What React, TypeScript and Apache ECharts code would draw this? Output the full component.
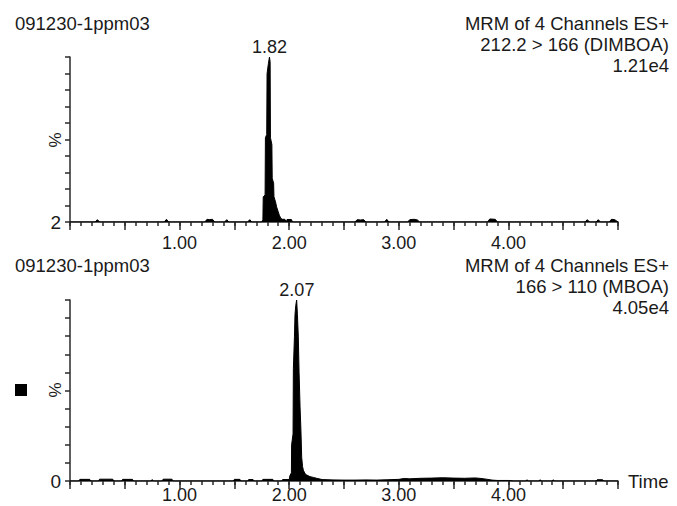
import React, { useEffect, useRef } from "react";
import * as echarts from "echarts";

const FONT = 'Arial, "Liberation Sans", Helvetica, sans-serif';
const INK = "#1a1a1a";
const AXIS = "#2a2a2a";

const sampleNames = ["091230-1ppm03", "091230-1ppm03"];
const headerLines = [
  ["MRM of 4 Channels ES+", "212.2 > 166 (DIMBOA)", "1.21e4"],
  ["MRM of 4 Channels ES+", "166 > 110 (MBOA)", "4.05e4"],
];
const xTickLabels = ["1.00", "2.00", "3.00", "4.00"];
const yAxisMin = [2, 0];
const yAxisMinLabel = ["2", "0"];
const peakTimes = [1.82, 2.07];

// DIMBOA channel: [time (min), relative intensity (%)]
const dimboaPoints: [number, number][] = [
  [0.0, 2], [0.23, 2], [0.25, 3.4], [0.27, 2], [0.86, 2], [0.88, 3.6], [0.9, 2],
  [1.23, 2], [1.25, 3.6], [1.27, 3.4], [1.3, 3.6], [1.32, 2], [1.41, 2], [1.43, 3.4],
  [1.45, 2], [1.62, 2], [1.64, 3.4], [1.66, 2], [1.75, 2],
  [1.76, 3.5], [1.763, 17], [1.78, 18], [1.783, 52], [1.795, 54], [1.798, 90],
  [1.81, 96], [1.82, 100], [1.826, 97], [1.829, 52], [1.842, 48], [1.845, 28],
  [1.858, 25], [1.861, 17], [1.875, 14], [1.885, 11], [1.9, 8], [1.91, 6],
  [1.925, 4], [1.94, 3.6], [1.96, 3.6], [1.975, 2], [1.98, 3.5], [2.02, 3.5],
  [2.03, 2], [2.6, 2], [2.62, 3.4], [2.65, 3.2], [2.68, 3.4], [2.7, 2], [2.87, 2],
  [2.89, 3.6], [2.91, 2], [3.08, 2], [3.1, 3.4], [3.14, 3.6], [3.17, 3.2], [3.19, 2],
  [3.81, 2], [3.83, 3.8], [3.88, 3.6], [3.9, 2], [4.7, 2], [4.72, 3.4], [4.74, 2],
  [4.8, 2], [4.82, 3.4], [4.84, 2], [4.92, 2], [4.94, 3.6], [4.97, 3.4], [5.0, 2],
];

// MBOA channel: [time (min), relative intensity (%)]
const mboaPoints: [number, number][] = [
  [0.0, 0], [0.08, 0], [0.09, 0.9], [0.18, 0.9], [0.19, 0], [0.26, 0], [0.27, 1],
  [0.39, 1], [0.4, 0], [0.47, 0], [0.48, 0.9], [0.57, 0.9], [0.58, 0], [0.74, 0],
  [0.75, 0.8], [0.76, 0], [0.84, 0], [0.85, 1], [0.93, 1], [0.94, 0], [1.49, 0],
  [1.5, 0.9], [1.55, 0.9], [1.56, 0], [1.62, 0], [1.63, 0.8], [1.67, 0.8], [1.68, 0],
  [1.75, 0], [1.76, 0.9], [1.85, 0.9], [1.86, 0], [1.93, 0], [1.94, 0.8], [2.0, 0.8],
  [2.007, 3], [2.02, 4.5], [2.022, 20], [2.035, 26], [2.038, 62], [2.048, 80],
  [2.053, 92], [2.06, 97], [2.068, 100], [2.075, 92], [2.083, 80], [2.09, 60],
  [2.099, 41], [2.107, 28], [2.114, 13], [2.122, 8], [2.129, 6], [2.145, 4],
  [2.16, 3.3], [2.19, 2.4], [2.22, 2], [2.25, 1.5], [2.3, 0.8], [2.4, 0.6],
  [2.5, 0.5], [2.6, 0.5], [2.7, 0.6], [2.8, 0.5], [2.9, 0.7], [3.0, 0.9],
  [3.05, 1.4], [3.1, 1.2], [3.2, 1.5], [3.3, 1.6], [3.4, 1.8], [3.5, 1.6],
  [3.6, 1.5], [3.7, 1.7], [3.75, 1.4], [3.8, 1.0], [3.85, 0.5], [3.9, 0.3],
  [4.0, 0.3], [4.05, 0], [4.16, 0], [4.17, 0.7], [4.18, 0], [4.28, 0], [4.29, 0.7],
  [4.3, 0], [4.4, 0], [4.41, 0.7], [4.42, 0], [4.8, 0], [4.81, 0.7], [4.86, 0.7],
  [4.87, 0], [5.0, 0],
];

const channels = [dimboaPoints, mboaPoints];

export default function App() {
  const ref = useRef<HTMLDivElement>(null);

  useEffect(() => {
    if (!ref.current) return;
    const chart = echarts.init(ref.current, null, { renderer: "svg" });

    const grids = [
      { left: 70, right: 59, top: 57, height: 165 },
      { left: 70, right: 59, top: 300, height: 181 },
    ];
    const xLabelMargin = [12, 5];

    const xFormatter = (v: number) => {
      const k = Math.round(v * 100) / 100;
      if (Number.isInteger(k) && k >= 1 && k <= 4) return xTickLabels[k - 1];
      return "";
    };

    const xAxes: any[] = [];
    [0, 1].forEach((i) => {
      // main axis: short ticks every 0.1, labels every 1.00
      xAxes.push({
        type: "value",
        gridIndex: i,
        min: 0,
        max: 5,
        interval: 0.1,
        position: "bottom",
        axisLine: { show: true, onZero: false, lineStyle: { color: AXIS, width: 1.5 } },
        axisTick: { show: true, length: 4, lineStyle: { color: AXIS, width: 1.5 } },
        splitLine: { show: false },
        axisLabel: {
          show: true,
          formatter: xFormatter,
          color: INK,
          fontSize: 18,
          fontFamily: FONT,
          margin: xLabelMargin[i],
          hideOverlap: false,
        },
        name: i === 1 ? "Time" : "",
        nameLocation: "end",
        nameGap: 10,
        nameTextStyle: { color: INK, fontSize: 18.5, fontFamily: FONT },
      });
      // long ticks every 0.5
      xAxes.push({
        type: "value",
        gridIndex: i,
        min: 0,
        max: 5,
        interval: 0.5,
        position: "bottom",
        axisLine: { show: false, onZero: false },
        axisTick: { show: true, length: 8, lineStyle: { color: AXIS, width: 1.5 } },
        splitLine: { show: false },
        axisLabel: { show: false },
      });
    });

    const option: any = {
      animation: false,
      backgroundColor: "#ffffff",
      textStyle: { fontFamily: FONT },
      grid: grids.map((g) => ({ ...g, outerBoundsMode: "none", containLabel: false })),
      xAxis: xAxes,
      yAxis: [0, 1].map((i) => ({
        type: "value",
        gridIndex: i,
        min: yAxisMin[i],
        max: 100,
        interval: (100 - yAxisMin[i]) / 10,
        axisLine: { show: true, lineStyle: { color: AXIS, width: 1.5 } },
        axisTick: { show: true, length: 5, lineStyle: { color: AXIS, width: 1.5 } },
        splitLine: { show: false },
        axisLabel: {
          formatter: (v: number) => (Math.abs(v - yAxisMin[i]) < 1e-6 ? yAxisMinLabel[i] : ""),
          color: INK,
          fontSize: 19,
          fontFamily: FONT,
          margin: 9,
        },
      })),
      series: channels.map((pts, i) => ({
        type: "line",
        xAxisIndex: 2 * i,
        yAxisIndex: i,
        data: pts,
        showSymbol: false,
        symbol: "none",
        lineStyle: { color: "#000000", width: 1 },
        areaStyle: { color: "#000000", opacity: 1, origin: "start" },
        clip: true,
        markPoint: {
          silent: true,
          symbol: "circle",
          symbolSize: 0,
          itemStyle: { color: "transparent" },
          label: {
            show: true,
            position: "top",
            distance: 1,
            color: INK,
            fontSize: 18,
            fontFamily: FONT,
            formatter: peakTimes[i].toFixed(2),
          },
          data: [{ coord: [peakTimes[i], 100] }],
        },
      })),
      graphic: [
        ...[0, 1].flatMap((i) => {
          const ys = i === 0 ? [23, 44.5, 65.5] : [265, 286.5, 307.5];
          return [
            {
              type: "text",
              x: 15,
              y: ys[0],
              style: {
                text: sampleNames[i],
                fill: INK,
                font: `18.5px ${FONT}`,
                align: "left",
                verticalAlign: "middle",
              },
            },
            ...headerLines[i].map((t, j) => ({
              type: "text",
              x: 669,
              y: ys[j],
              style: {
                text: t,
                fill: INK,
                font: `18.5px ${FONT}`,
                align: "right",
                verticalAlign: "middle",
              },
            })),
            {
              type: "text",
              x: 55,
              y: i === 0 ? 140 : 390,
              rotation: Math.PI / 2,
              style: {
                text: "%",
                fill: INK,
                font: `17px ${FONT}`,
                align: "center",
                verticalAlign: "middle",
              },
            },
          ];
        }),
        {
          type: "rect",
          shape: { x: 15, y: 384, width: 12, height: 12 },
          style: { fill: "#000000" },
        },
      ],
    };

    chart.setOption(option);
    return () => chart.dispose();
  }, []);

  return (
    <div
      ref={ref}
      style={{ position: "fixed", left: 0, top: 0, width: 677, height: 506, background: "#fff" }}
    />
  );
}
